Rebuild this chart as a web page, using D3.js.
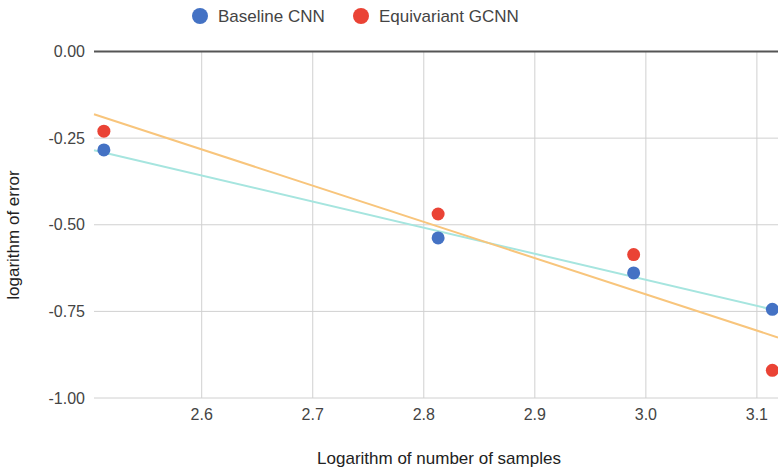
<!DOCTYPE html>
<html>
<head>
<meta charset="utf-8">
<script src="https://cdn.jsdelivr.net/npm/d3@7"></script>
<style>
  body { margin: 0; background: #fff; }
  svg { display: block; font-family: "Liberation Sans", Arial, sans-serif; }
  .tick-label { fill: #444; font-size: 16px; }
  .axis-title { fill: #222; font-size: 17px; }
  .legend-text { fill: #444; font-size: 17px; }
</style>
</head>
<body>
<svg id="chart"></svg>
<script>
// log10 of number of samples
const logSamples = [2.5119, 2.8129, 2.9890, 3.1139];
const baselineCNN = [-0.284, -0.538, -0.639, -0.744];
const equivariantGCNN = [-0.230, -0.469, -0.586, -0.920];
const xTicks = [2.6, 2.7, 2.8, 2.9, 3.0, 3.1];
const yTicks = [0, -0.25, -0.5, -0.75, -1.0];
const seriesNames = ['Baseline CNN', 'Equivariant GCNN'];

const width = 778, height = 470;
const margin = {top: 51.5, right: 0, bottom: 72, left: 94};

const svg = d3.select('#chart').attr('width', width).attr('height', height);

const xScale = d3.scaleLinear([2.503, 3.119], [margin.left, width - margin.right]);
const yScale = d3.scaleLinear([0, -1], [margin.top, height - margin.bottom]);

const series = [
  {name: seriesNames[0], values: baselineCNN, color: '#4472c4', trend: '#a6e5df'},
  {name: seriesNames[1], values: equivariantGCNN, color: '#ea4335', trend: '#f8c57c'}
];

// plain hyphen for negatives, like the sheet does
const fmtY = d => d3.format('.2f')(d).replace('\u2212', '-');

// grid
const grid = svg.append('g');
grid.selectAll('.vgrid')
  .data(xTicks)
  .join('line')
    .attr('x1', d => xScale(d)).attr('x2', d => xScale(d))
    .attr('y1', yScale(0)).attr('y2', yScale(-1))
    .attr('stroke', '#d0d0d0').attr('stroke-width', 1);
grid.selectAll('.hgrid')
  .data(yTicks.filter(d => d !== 0))
  .join('line')
    .attr('x1', margin.left).attr('x2', width)
    .attr('y1', d => yScale(d)).attr('y2', d => yScale(d))
    .attr('stroke', '#d0d0d0').attr('stroke-width', 1);
// zero line
svg.append('line')
  .attr('x1', margin.left).attr('x2', width)
  .attr('y1', yScale(0)).attr('y2', yScale(0))
  .attr('stroke', '#555').attr('stroke-width', 2);

// tick labels
svg.selectAll('.ylab')
  .data(yTicks)
  .join('text')
    .attr('class', 'tick-label')
    .attr('x', 85)
    .attr('y', d => yScale(d))
    .attr('dy', '0.35em')
    .attr('text-anchor', 'end')
    .text(fmtY);
svg.selectAll('.xlab')
  .data(xTicks)
  .join('text')
    .attr('class', 'tick-label')
    .attr('x', d => xScale(d))
    .attr('y', 420)
    .attr('text-anchor', 'middle')
    .text(d => d3.format('.1f')(d));

// axis titles
svg.append('text')
  .attr('class', 'axis-title')
  .attr('x', 439).attr('y', 464)
  .attr('text-anchor', 'middle')
  .text('Logarithm of number of samples');
svg.append('text')
  .attr('class', 'axis-title')
  .attr('transform', 'translate(19,235) rotate(-90)')
  .attr('text-anchor', 'middle')
  .text('logarithm of error');

// linear trendlines (least squares)
function fit(xs, ys) {
  const mx = d3.mean(xs), my = d3.mean(ys);
  const sxy = d3.sum(xs, (x, i) => (x - mx) * (ys[i] - my));
  const sxx = d3.sum(xs, x => (x - mx) * (x - mx));
  const slope = sxy / sxx;
  return x => my + slope * (x - mx);
}
const xDom = xScale.domain();
series.forEach(s => {
  const f = fit(logSamples, s.values);
  svg.append('line')
    .attr('x1', xScale(xDom[0])).attr('y1', yScale(f(xDom[0])))
    .attr('x2', xScale(xDom[1])).attr('y2', yScale(f(xDom[1])))
    .attr('stroke', s.trend).attr('stroke-width', 2);
});

// points
series.forEach(s => {
  svg.selectAll(null)
    .data(s.values)
    .join('circle')
      .attr('cx', (d, i) => xScale(logSamples[i]))
      .attr('cy', d => yScale(d))
      .attr('r', 6.5)
      .attr('fill', s.color);
});

// legend
const legendX = [200, 361];
const legend = svg.selectAll('.legend')
  .data(series)
  .join('g')
    .attr('transform', (d, i) => `translate(${legendX[i]},16)`);
legend.append('circle').attr('r', 8).attr('fill', d => d.color);
legend.append('text')
  .attr('class', 'legend-text')
  .attr('x', 18).attr('y', 6)
  .text(d => d.name);
</script>
</body>
</html>
